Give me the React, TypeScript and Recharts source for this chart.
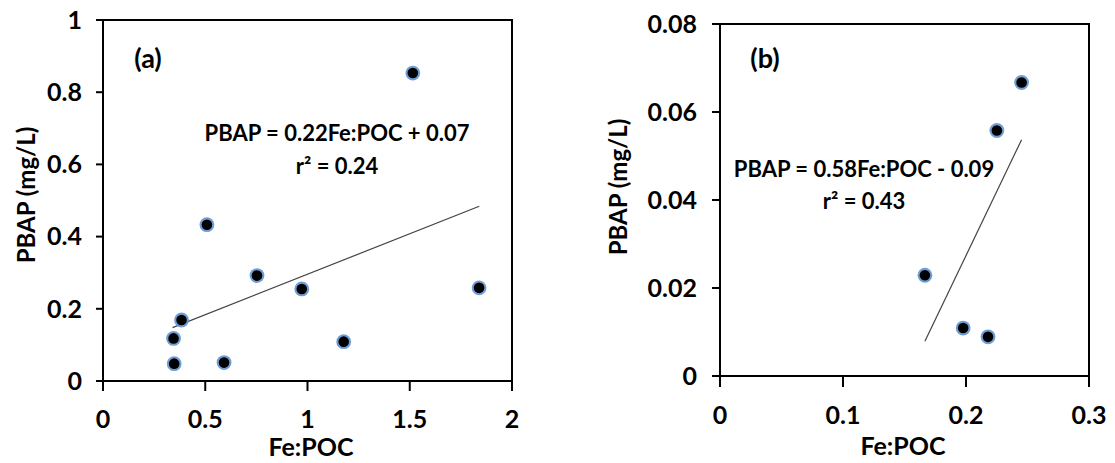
import {
  ScatterChart,
  Scatter,
  XAxis,
  YAxis,
  ReferenceLine,
  ReferenceArea,
  Label,
} from "recharts";

// Panel (a) data: Fe:POC vs PBAP (mg/L)
const feA = [0.345, 0.348, 0.384, 0.508, 0.592, 0.753, 0.972, 1.177, 1.515, 1.839];
const pbapA = [0.118, 0.048, 0.169, 0.433, 0.051, 0.292, 0.255, 0.109, 0.853, 0.258];
const trendA = [
  { x: 0.34, y: 0.148 },
  { x: 1.84, y: 0.484 },
];
const xTicksA = [0, 0.5, 1, 1.5, 2];
const yTicksA = [0, 0.2, 0.4, 0.6, 0.8, 1];

// Panel (b) data
const feB = [0.1666, 0.1977, 0.2179, 0.2251, 0.2452];
const pbapB = [0.0229, 0.0109, 0.0089, 0.0558, 0.0667];
const trendB = [
  { x: 0.1666, y: 0.0079 },
  { x: 0.2452, y: 0.0537 },
];
const xTicksB = [0, 0.1, 0.2, 0.3];
const yTicksB = [0, 0.02, 0.04, 0.06, 0.08];

const FONT = "Lato, 'Open Sans', sans-serif";

const tickStyle = { fill: "#000", fontSize: 25, fontWeight: 700, fontFamily: FONT };

// black dot with a soft blue rim
const Dot = (props: any) => (
  <g>
    <circle cx={props.cx} cy={props.cy} r={7.4} fill="#5f93d3" opacity={0.9} />
    <circle cx={props.cx} cy={props.cy} r={5.3} fill="#000" />
  </g>
);

const textAt =
  (x: number, y: number, value: string, size: number, rotate = false) =>
  () =>
    (
      <text
        x={x}
        y={y}
        textAnchor="middle"
        dominantBaseline="central"
        transform={rotate ? `rotate(-90 ${x} ${y})` : undefined}
        fill="#000"
        fontSize={size}
        fontWeight={700}
        fontFamily={FONT}
      >
        {value}
      </text>
    );

interface PanelProps {
  xs: number[];
  ys: number[];
  trend: { x: number; y: number }[];
  xTicks: number[];
  yTicks: number[];
  width: number;
  margin: { top: number; right: number; bottom: number; left: number };
  tickLenY: number;
  tickLenX: number;
  marginY: number;
  titles: { x: number; y: number; value: string; size: number; rotate?: boolean }[];
}

function Panel({ xs, ys, trend, xTicks, yTicks, width, margin, tickLenY, tickLenX, marginY, titles }: PanelProps) {
  const data = xs.map((x, i) => ({ x, y: ys[i] }));
  const xMax = xTicks[xTicks.length - 1];
  const yMax = yTicks[yTicks.length - 1];
  return (
    <ScatterChart width={width} height={463} margin={margin}>
      <XAxis
        type="number"
        dataKey="x"
        domain={[0, xMax]}
        ticks={xTicks}
        height={60}
        tick={tickStyle}
        tickSize={tickLenX}
        tickMargin={19}
        axisLine={{ stroke: "#000", strokeWidth: 2 }}
        tickLine={{ stroke: "#000", strokeWidth: 2 }}
      >
        {titles.map((t, i) => (
          <Label key={i} content={textAt(t.x, t.y, t.value, t.size, t.rotate)} />
        ))}
      </XAxis>
      <YAxis
        type="number"
        dataKey="y"
        domain={[0, yMax]}
        ticks={yTicks}
        width={60}
        tick={tickStyle}
        tickSize={tickLenY}
        tickMargin={marginY}
        axisLine={{ stroke: "#000", strokeWidth: 2 }}
        tickLine={{ stroke: "#000", strokeWidth: 2 }}
      />
      <ReferenceArea x1={0} x2={xMax} y1={0} y2={yMax} fill="none" stroke="#000" strokeWidth={2} />
      <ReferenceLine segment={trend} stroke="#444" strokeWidth={1.2} />
      <Scatter data={data} shape={Dot} isAnimationActive={false} />
    </ScatterChart>
  );
}

export default function App() {
  return (
    <div style={{ position: "absolute", left: 0, top: 0, width: 1115, height: 463, background: "#fff" }}>
      <div style={{ position: "absolute", left: 0, top: 0 }}>
        <Panel
          xs={feA}
          ys={pbapA}
          trend={trendA}
          xTicks={xTicksA}
          yTicks={yTicksA}
          width={560}
          margin={{ top: 20, right: 48, bottom: 22, left: 43 }}
          tickLenY={7}
          tickLenX={10}
          marginY={14}
          titles={[
            { x: 25, y: 195, value: "PBAP (mg/L)", size: 24, rotate: true },
            { x: 311, y: 446, value: "Fe:POC", size: 25 },
            { x: 148, y: 57, value: "(a)", size: 27 },
            { x: 337, y: 132, value: "PBAP = 0.22Fe:POC + 0.07", size: 22 },
            { x: 337, y: 165, value: "r² = 0.24", size: 22 },
          ]}
        />
      </div>
      <div style={{ position: "absolute", left: 560, top: 0 }}>
        <Panel
          xs={feB}
          ys={pbapB}
          trend={trendB}
          xTicks={xTicksB}
          yTicks={yTicksB}
          width={555}
          margin={{ top: 24, right: 26, bottom: 27, left: 100 }}
          tickLenY={8}
          tickLenX={11}
          marginY={15}
          titles={[
            { x: 57, y: 187, value: "PBAP (mg/L)", size: 24, rotate: true },
            { x: 343, y: 445, value: "Fe:POC", size: 25 },
            { x: 205, y: 57, value: "(b)", size: 27 },
            { x: 304, y: 168, value: "PBAP = 0.58Fe:POC - 0.09", size: 22 },
            { x: 304, y: 200, value: "r² = 0.43", size: 22 },
          ]}
        />
      </div>
    </div>
  );
}
